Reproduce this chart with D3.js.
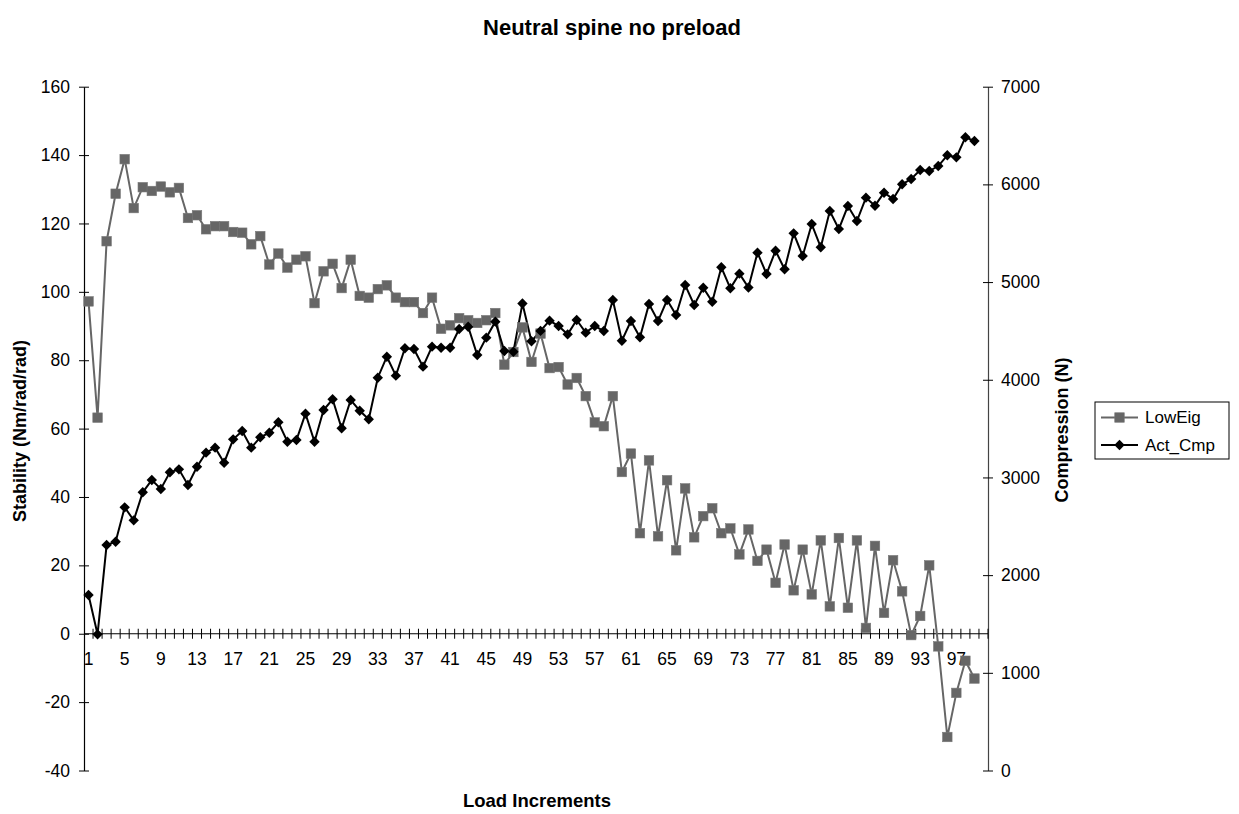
<!DOCTYPE html>
<html>
<head>
<meta charset="utf-8">
<script src="https://cdn.jsdelivr.net/npm/d3@7"></script>
<style>
  body { margin: 0; background: #fff; }
  text { font-family: Arial, "Liberation Sans", sans-serif; }
</style>
</head>
<body>
<svg id="chart" width="1239" height="814"></svg>
<script>
// Category axis: load increments 1..100 (the last slot carries no data)
const increments = d3.range(1, 101);

// Lowest eigenvalue of the stiffness matrix (Nm/rad/rad), increments 1..99
const lowEig = [
  97.2, 63.2, 114.8, 128.7, 138.8, 124.5, 130.6, 129.5, 130.8, 129.1,
  130.4, 121.6, 122.4, 118.3, 119.2, 119.2, 117.5, 117.3, 113.9, 116.3,
  108.0, 111.2, 107.1, 109.4, 110.4, 96.7, 106.0, 108.2, 101.1, 109.4,
  98.8, 98.3, 100.8, 101.9, 98.3, 97.0, 97.0, 93.8, 98.3, 89.2,
  90.2, 92.3, 91.7, 90.9, 91.7, 93.8, 78.7, 82.4, 89.6, 79.5,
  87.8, 77.7, 78.0, 72.9, 74.8, 69.5, 61.8, 60.7, 69.5, 47.3,
  52.7, 29.4, 50.7, 28.5, 44.9, 24.4, 42.5, 28.2, 34.4, 36.7,
  29.4, 30.8, 23.2, 30.5, 21.3, 24.6, 14.9, 26.1, 12.7, 24.6,
  11.5, 27.3, 8.0, 28.0, 7.6, 27.3, 1.7, 25.7, 6.1, 21.5,
  12.4, -0.4, 5.2, 20.0, -3.7, -30.2, -17.3, -7.9, -13.1
];

// Actual compression (N), increments 1..99
const actCmp = [
  1797, 1394, 2308, 2342, 2694, 2561, 2848, 2974, 2882, 3053,
  3083, 2923, 3110, 3254, 3305, 3151, 3390, 3475, 3305, 3411,
  3458, 3565, 3366, 3383, 3653, 3366, 3690, 3800, 3503, 3793,
  3683, 3595, 4021, 4236, 4042, 4322, 4315, 4134, 4339, 4328,
  4328, 4520, 4543, 4253, 4431, 4595, 4294, 4287, 4780, 4394,
  4500, 4605, 4550, 4465, 4612, 4482, 4550, 4499, 4816, 4400,
  4601, 4435, 4776, 4601, 4816, 4663, 4970, 4765, 4942, 4799,
  5151, 4936, 5086, 4944, 5301, 5083, 5321, 5131, 5499, 5267,
  5594, 5356, 5727, 5543, 5778, 5625, 5864, 5782, 5915, 5850,
  6001, 6055, 6147, 6137, 6188, 6298, 6277, 6482, 6444
];

const leftTicks = [-40, -20, 0, 20, 40, 60, 80, 100, 120, 140, 160];
const rightTicks = [0, 1000, 2000, 3000, 4000, 5000, 6000, 7000];
const xTickLabels = [1, 5, 9, 13, 17, 21, 25, 29, 33, 37, 41, 45, 49, 53, 57, 61, 65, 69, 73, 77, 81, 85, 89, 93, 97];

const seriesNames = ["LowEig", "Act_Cmp"];

const svg = d3.select("#chart");
const plot = { left: 84, right: 988, top: 86.7, bottom: 770.5 };

const x = d3.scaleBand().domain(increments).range([plot.left, plot.right]).paddingInner(0).paddingOuter(0);
const bw = x.bandwidth();
const yL = d3.scaleLinear().domain([-40, 160]).range([plot.bottom, plot.top]);
const yR = d3.scaleLinear().domain([0, 7000]).range([plot.bottom, plot.top]);
const cx = i => x(increments[i]) + bw / 2;

const tickFont = 17.5;
const plain = d => String(d);
const FONT = "Arial, 'Liberation Sans', sans-serif";

// Left value axis
const gL = svg.append("g").attr("transform", `translate(${plot.left},0)`)
  .call(d3.axisLeft(yL).tickValues(leftTicks).tickFormat(plain)
    .tickSizeInner(5).tickSizeOuter(0).tickPadding(9));
gL.select(".domain").attr("stroke", "#000").attr("stroke-width", 1.2);
gL.selectAll(".tick line").attr("x1", 5).attr("stroke", "#000");
gL.selectAll(".tick text").attr("font-size", tickFont).attr("fill", "#000").style("font-family", FONT);

// Right value axis
const gR = svg.append("g").attr("transform", `translate(${plot.right},0)`)
  .call(d3.axisRight(yR).tickValues(rightTicks).tickFormat(plain)
    .tickSizeInner(5).tickSizeOuter(0).tickPadding(8));
gR.select(".domain").attr("stroke", "#444").attr("stroke-width", 1.2);
gR.selectAll(".tick line").attr("x1", -5).attr("stroke", "#000");
gR.selectAll(".tick text").attr("font-size", tickFont).attr("fill", "#000").style("font-family", FONT);

// Category axis at the zero line of the left scale
const y0 = yL(0);
const gX = svg.append("g").attr("transform", `translate(0,${y0})`)
  .call(d3.axisBottom(x).tickValues(xTickLabels).tickSize(0).tickPadding(19));
gX.select(".domain").remove();
gX.selectAll(".tick text").attr("font-size", tickFont).attr("fill", "#000").style("font-family", FONT);
svg.append("line")
  .attr("x1", plot.left).attr("x2", plot.right).attr("y1", y0).attr("y2", y0)
  .attr("stroke", "#000").attr("stroke-width", 1.2);
// cross tick marks on every category boundary
const boundaries = increments.map(c => x(c)).concat([plot.right]).slice(1);
svg.append("g").selectAll("line").data(boundaries).join("line")
  .attr("x1", d => d).attr("x2", d => d)
  .attr("y1", y0 - 5).attr("y2", y0 + 5)
  .attr("stroke", "#000").attr("stroke-width", 1);

// Series lines
const lineL = d3.line().defined(d => d != null).x((d, i) => cx(i)).y(d => yL(d));
const lineR = d3.line().defined(d => d != null).x((d, i) => cx(i)).y(d => yR(d));

svg.append("path").attr("d", lineL(lowEig))
  .attr("fill", "none").attr("stroke", "#666").attr("stroke-width", 2);
svg.append("path").attr("d", lineR(actCmp))
  .attr("fill", "none").attr("stroke", "#000").attr("stroke-width", 2);

// Markers
const sq = 9.5;
svg.append("g").selectAll("rect").data(lowEig).join("rect")
  .attr("x", (d, i) => cx(i) - sq / 2).attr("y", d => yL(d) - sq / 2)
  .attr("width", sq).attr("height", sq)
  .attr("fill", "#666").attr("stroke", "#777").attr("stroke-width", 0.6);

const dia = 5.2;
const diamondPath = (px, py) => `M${px},${py - dia}L${px + dia},${py}L${px},${py + dia}L${px - dia},${py}Z`;
svg.append("g").selectAll("path").data(actCmp).join("path")
  .attr("d", (d, i) => diamondPath(cx(i), yR(d)))
  .attr("fill", "#000");

// Titles
svg.append("text").attr("x", 612).attr("y", 35).attr("text-anchor", "middle")
  .attr("font-size", 22).attr("font-weight", "bold").text("Neutral spine no preload");
svg.append("text").attr("x", 537).attr("y", 807).attr("text-anchor", "middle")
  .attr("font-size", 18.5).attr("font-weight", "bold").text("Load Increments");
svg.append("text").attr("transform", "translate(26,431) rotate(-90)").attr("text-anchor", "middle")
  .attr("font-size", 18).attr("font-weight", "bold").text("Stability (Nm/rad/rad)");
svg.append("text").attr("transform", "translate(1068,430) rotate(-90)").attr("text-anchor", "middle")
  .attr("font-size", 18).attr("font-weight", "bold").text("Compression (N)");

// Legend
const lg = svg.append("g").attr("transform", "translate(1095,402)");
lg.append("rect").attr("width", 134).attr("height", 57)
  .attr("fill", "#fff").attr("stroke", "#000").attr("stroke-width", 1);
const rowsY = [15.5, 43];
seriesNames.forEach((name, k) => {
  const ry = rowsY[k];
  lg.append("line").attr("x1", 6).attr("x2", 43).attr("y1", ry).attr("y2", ry)
    .attr("stroke", k === 0 ? "#666" : "#000").attr("stroke-width", 2);
  if (k === 0) {
    lg.append("rect").attr("x", 24.5 - sq / 2).attr("y", ry - sq / 2).attr("width", sq).attr("height", sq)
      .attr("fill", "#666").attr("stroke", "#777").attr("stroke-width", 0.6);
  } else {
    lg.append("path").attr("d", diamondPath(24.5, ry)).attr("fill", "#000");
  }
  lg.append("text").attr("x", 50).attr("y", ry).attr("dy", "0.35em")
    .attr("font-size", 17).text(name);
});
</script>
</body>
</html>
